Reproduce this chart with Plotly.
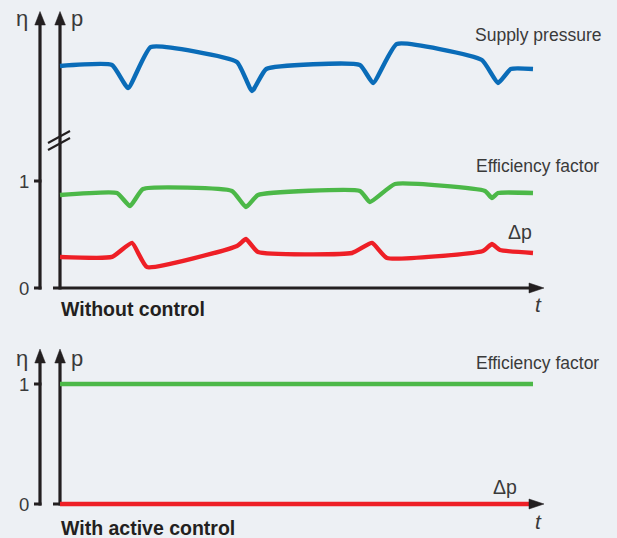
import plotly.graph_objects as go

W, H = 617, 538

# ---------------- data (schematic values) ----------------
# time axis: 0 .. 100 (arbitrary units)
t_pressure = [0, 11.0, 14.4, 19.2, 37.4, 40.6, 43.6, 63.4, 66.2, 71.2, 89.2, 92.6, 95.3, 100]
supply_pressure = [6.0, 6.025, 5.45, 6.475, 6.1, 5.375, 5.925, 6.025, 5.575, 6.55, 6.15, 5.575, 5.925, 5.925]

t_eff = [0, 12.05, 14.8, 17.55, 36.36, 39.32, 41.86, 63.42, 65.54, 70.82, 89.85, 91.33, 92.6, 100]
eff_without = [0.869, 0.888, 0.766, 0.925, 0.907, 0.757, 0.869, 0.907, 0.804, 0.972, 0.907, 0.841, 0.888, 0.888]

t_dp = [0, 11.0, 15.22, 18.39, 37.42, 39.32, 41.86, 61.73, 65.96, 69.13, 89.43, 91.33, 93.02, 100]
dp_without = [0.290, 0.290, 0.421, 0.196, 0.393, 0.458, 0.336, 0.327, 0.421, 0.280, 0.346, 0.411, 0.355, 0.327]

t_ctrl = [0, 100]
eff_with = [1, 1]
dp_with = [0, 0]

eta_ticks = [0, 1]
labels_top = ["Supply pressure", "Efficiency factor", "Δp"]
labels_bottom = ["Efficiency factor", "Δp"]
titles = ["Without control", "With active control"]

# ---------------- styling ----------------
BG = "#edf0f4"
AX = "#231f20"
TXT = "#3a3a3a"
BLUE = "#0a6cb8"
GREEN = "#4cb848"
RED = "#ee1f26"
FONT = "Liberation Sans, Arial, sans-serif"

# pixel helpers (figure has zero margins)
def px(x):
    return x / W

def py(y):
    return 1 - y / H

# x: t=0 at pixel 60, t=100 at pixel 533
sx = (533 - 60) / 100.0
x_range = [(0 - 60) / sx, (W - 60) / sx]
# top eta axis: 0 at y=288, 1 at y=181
e1 = 107.0
y_range_top = [(288 - H) / e1, 288 / e1]
# pressure: 6.0 at y=66, 40 px per unit
sp = 40.0
p_range = [6 - (H - 66) / sp, 6 + 66 / sp]
# bottom eta axis: 0 at y=504, 1 at y=384
e2 = 120.0
y_range_bot = [(504 - H) / e2, 504 / e2]

fig = go.Figure()

line_common = dict(width=4.4, shape="spline", smoothing=0.42)

fig.add_trace(go.Scatter(x=t_pressure, y=supply_pressure, yaxis="y2", mode="lines",
                         line=dict(color=BLUE, **line_common), hoverinfo="skip"))
fig.add_trace(go.Scatter(x=t_eff, y=eff_without, yaxis="y", mode="lines",
                         line=dict(color=GREEN, **line_common), hoverinfo="skip"))
fig.add_trace(go.Scatter(x=t_dp, y=dp_without, yaxis="y", mode="lines",
                         line=dict(color=RED, **line_common), hoverinfo="skip"))
fig.add_trace(go.Scatter(x=t_ctrl, y=eff_with, yaxis="y3", mode="lines",
                         line=dict(color=GREEN, width=4.4), hoverinfo="skip"))
fig.add_trace(go.Scatter(x=[t_ctrl[0], 99.3], y=dp_with, yaxis="y3", mode="lines",
                         line=dict(color=RED, width=4.6), hoverinfo="skip"))

shapes = []

def seg(x0, y0, x1, y1, w=3.2, layer="below"):
    shapes.append(dict(type="line", xref="paper", yref="paper",
                       x0=px(x0), y0=py(y0), x1=px(x1), y1=py(y1),
                       line=dict(color=AX, width=w), layer=layer))

def tri(pts):
    d = "M " + " L ".join(f"{px(a):.5f},{py(b):.5f}" for a, b in pts) + " Z"
    shapes.append(dict(type="path", xref="paper", yref="paper", path=d,
                       fillcolor=AX, line=dict(color=AX, width=0.5), layer="above"))

# --- top panel axes ---
seg(40, 289.5, 40, 22)
seg(60, 289.5, 60, 22)
seg(53, 288, 532, 288)
tri([(40, 11.5), (34.8, 25), (45.4, 25)])
tri([(60, 11.5), (54.8, 25), (65.4, 25)])
tri([(544, 288), (529, 283), (529, 293)])
# axis break
seg(48, 143, 70, 131, w=2)
seg(48, 150, 70, 138, w=2)
# eta ticks (top)
for v in eta_ticks:
    shapes.append(dict(type="line", xref="paper", yref="y", x0=px(34), x1=px(41.5),
                       y0=v, y1=v, line=dict(color=AX, width=3), layer="below"))

# --- bottom panel axes ---
seg(40, 505.5, 40, 360)
seg(60, 505.5, 60, 360)
seg(53, 504, 532, 504)
tri([(40, 349), (34.8, 363), (45.4, 363)])
tri([(60, 349), (54.8, 363), (65.4, 363)])
tri([(544, 504), (529, 499), (529, 509)])
for v in eta_ticks:
    shapes.append(dict(type="line", xref="paper", yref="y3", x0=px(34), x1=px(41.5),
                       y0=v, y1=v, line=dict(color=AX, width=3), layer="below"))

annotations = []

def txt(x, y, s, size=17.5, color=TXT, bold=False, italic=False, xanchor="center", yref="paper", yval=None):
    st = s
    if bold:
        st = f"<b>{st}</b>"
    if italic:
        st = f"<i>{st}</i>"
    annotations.append(dict(x=px(x), y=(py(y) if yval is None else yval), xref="paper", yref=yref,
                            text=st, showarrow=False, xanchor=xanchor, yanchor="middle",
                            font=dict(family=FONT, size=size, color=color)))

# axis letters
txt(22, 18, "η", size=22)
txt(77, 18, "p", size=22)
txt(22, 358, "η", size=22)
txt(77, 358, "p", size=22)
# tick labels
for v in eta_ticks:
    txt(24, 0, str(v), size=18.5, yref="y", yval=v)
    txt(24, 0, str(v), size=18.5, yref="y3", yval=v)
# t labels
txt(538, 304, "t", size=21, italic=True)
txt(538, 521, "t", size=21, italic=True)
# series labels
txt(538, 35, labels_top[0])
txt(537, 166, labels_top[1])
txt(520, 232, labels_top[2], size=19.5)
txt(537, 363, labels_bottom[0])
txt(505, 487, labels_bottom[1], size=19.5)
# panel titles
txt(59, 309, titles[0], size=19.5, color="#231f20", bold=True, xanchor="left")
txt(59, 528, titles[1], size=19.5, color="#231f20", bold=True, xanchor="left")

fig.update_layout(
    width=W, height=H, margin=dict(l=0, r=0, t=0, b=0),
    paper_bgcolor=BG, plot_bgcolor=BG, showlegend=False,
    xaxis=dict(range=x_range, visible=False, domain=[0, 1], fixedrange=True),
    yaxis=dict(range=y_range_top, visible=False, domain=[0, 1], fixedrange=True),
    yaxis2=dict(range=p_range, visible=False, overlaying="y", fixedrange=True),
    yaxis3=dict(range=y_range_bot, visible=False, overlaying="y", fixedrange=True),
    shapes=shapes, annotations=annotations,
)

fig.write_html("out.html", config={"displayModeBar": False},
               post_script="document.body.style.margin='0';document.body.style.overflow='hidden';")
